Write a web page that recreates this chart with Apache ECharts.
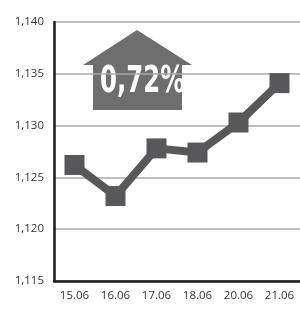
<!DOCTYPE html>
<html>
<head>
<meta charset="utf-8">
<script src="https://cdn.jsdelivr.net/npm/echarts@6/dist/echarts.min.js"></script>
<style>
  html, body { margin: 0; padding: 0; background: #fff; }
  #chart { width: 300px; height: 314px; }
</style>
</head>
<body>
<div id="chart"></div>
<script>
// dates and rates
var days = ['15.06', '16.06', '17.06', '18.06', '20.06', '21.06'];
var rates = [1.1262, 1.1232, 1.1278, 1.1274, 1.1303, 1.1341];
var yMin = 1.115, yMax = 1.140, yStep = 0.005;
var changeLabel = '0,72%';

var chart = echarts.init(document.getElementById('chart'));

chart.setOption({
    backgroundColor: '#fff',
    animation: false,
    grid: {
        left: 54,
        top: 22,
        width: 248,
        bottom: 33
    },
    xAxis: {
        type: 'category',
        data: days,
        boundaryGap: true,
        axisLine: { lineStyle: { color: '#1a1a1a', width: 2.5 } },
        axisTick: { inside: true, length: 6, lineStyle: { color: '#1a1a1a', width: 2 } },
        axisLabel: { color: '#333', fontSize: 11.5, fontFamily: 'Open Sans', margin: 9 }
    },
    yAxis: {
        type: 'value',
        min: yMin,
        max: yMax,
        interval: yStep,
        axisLine: { show: true, lineStyle: { color: '#1a1a1a', width: 2.5 } },
        axisTick: { show: false },
        splitLine: { lineStyle: { color: '#a8a8a8', width: 1.5 } },
        axisLabel: {
            color: '#333', fontSize: 11.5, fontFamily: 'Open Sans', margin: 10,
            formatter: function (v) { return v.toFixed(3).replace('.', ','); }
        }
    },
    graphic: [
        {
            type: 'polygon',
            shape: { points: [[83, 65], [137, 30], [192, 65], [182, 65], [182, 110], [93, 110], [93, 65]] },
            style: { fill: '#6e6e6e' }
        },
        {
            type: 'text',
            x: 100,
            y: 82,
            scaleX: 0.66,
            originX: 0,
            style: {
                text: changeLabel,
                fill: '#fff',
                font: 'bold 37px "DejaVu Sans"',
                verticalAlign: 'middle',
                align: 'left'
            }
        }
    ],
    series: [{
        type: 'line',
        data: rates,
        symbol: 'rect',
        symbolSize: 20,
        lineStyle: { color: '#58585a', width: 8 },
        itemStyle: { color: '#58585a' }
    }]
});
</script>
</body>
</html>
